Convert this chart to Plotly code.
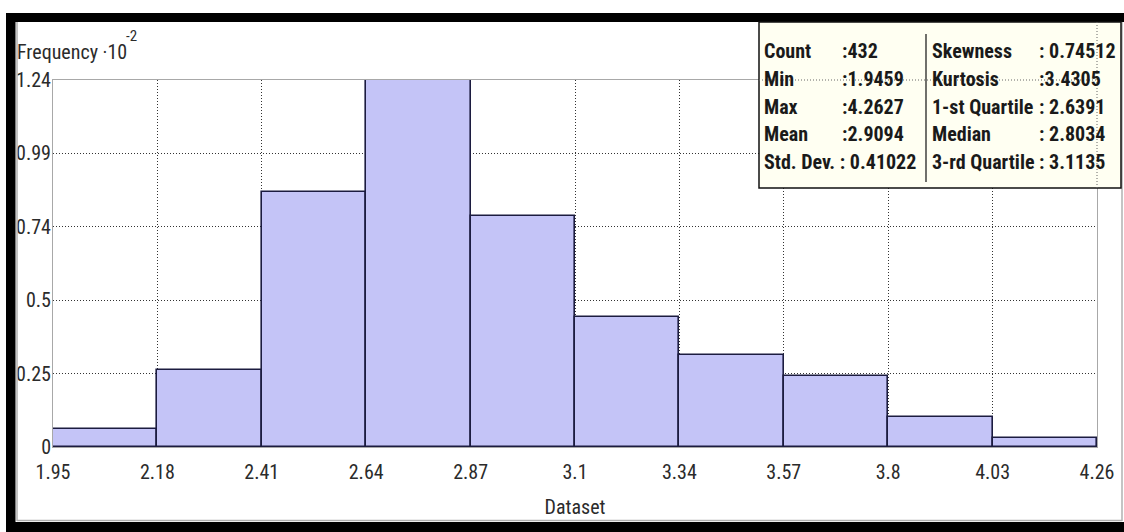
import plotly.graph_objects as go

# Histogram of the dataset: 10 equal-width bins between min and max
data_min = 1.9459
data_max = 4.2627
bin_counts = [6, 26, 86, 124, 78, 44, 31, 24, 10, 3]
x_tick_labels = ["1.95", "2.18", "2.41", "2.64", "2.87", "3.1", "3.34", "3.57", "3.8", "4.03", "4.26"]
y_tick_values = [0, 0.248, 0.496, 0.744, 0.992, 1.24]
y_tick_labels = ["0", "0.25", "0.5", "0.74", "0.99", "1.24"]

stat_labels_left = ["Count", "Min", "Max", "Mean"]
stat_values_left = [":432", ":1.9459", ":4.2627", ":2.9094"]
stat_std = "Std. Dev. : 0.41022"
stat_labels_right = ["Skewness", "Kurtosis", "1-st Quartile", "Median", "3-rd Quartile"]
stat_values_right = [": 0.74512", ":3.4305", ": 2.6391", ": 2.8034", ": 3.1135"]

n_bins = len(bin_counts)
bin_w = (data_max - data_min) / n_bins
edges = [data_min + i * bin_w for i in range(n_bins + 1)]
centers = [data_min + (i + 0.5) * bin_w for i in range(n_bins)]
heights = [c / 100 for c in bin_counts]  # frequency shown in units of 10^-2

W, H = 1124, 532
PL, PR, PT, PB = 53, 1097, 80, 447  # plot area in pixels


def px(x):
    return x / W


def py(y):
    return 1 - y / H


NARROW = "Liberation Sans Narrow, Arial Narrow, Roboto Condensed, sans-serif"
TXT = "#2b2b2b"

fig = go.Figure()
fig.add_trace(go.Bar(
    x=centers, y=heights, width=[bin_w] * n_bins,
    marker=dict(color="#c4c4f7", line=dict(color="#1c1c40", width=1.6)),
    hoverinfo="skip",
))

fig.update_layout(
    template="none",
    width=W, height=H,
    margin=dict(l=0, r=0, t=0, b=0, pad=0, autoexpand=False),
    paper_bgcolor="white", plot_bgcolor="white",
    showlegend=False, bargap=0,
    xaxis=dict(
        domain=[px(PL), px(PR)], range=[data_min, data_max], automargin=False,
        tickmode="array", tickvals=edges, ticktext=x_tick_labels,
        showgrid=True, gridcolor="#333", gridwidth=1, griddash="1px,2px",
        showline=True, mirror=True, linecolor="#a8a8a8", linewidth=1,
        zeroline=False, ticks="", layer="below traces",
        tickfont=dict(family=NARROW, size=20, color=TXT),
        ticklabelstandoff=7,
        title=dict(text="Dataset", font=dict(family=NARROW, size=20, color=TXT), standoff=16),
    ),
    yaxis=dict(
        domain=[py(PB), py(PT)], range=[0, 1.24], automargin=False,
        tickmode="array", tickvals=y_tick_values, ticktext=y_tick_labels,
        showgrid=True, gridcolor="#333", gridwidth=1, griddash="1px,2px",
        showline=True, mirror=True, linecolor="#a8a8a8", linewidth=1,
        zeroline=False, ticks="", layer="below traces",
        tickfont=dict(family=NARROW, size=20, color=TXT),
        ticklabelstandoff=-3,
    ),
)

shapes = []
# outer black frame (left, top, bottom) and thin grey inner edge
shapes.append(dict(type="rect", xref="paper", yref="paper", x0=px(6), x1=px(15.5), y0=py(532), y1=py(13),
                   fillcolor="black", line=dict(width=0), layer="above"))
shapes.append(dict(type="rect", xref="paper", yref="paper", x0=px(6), x1=px(1124), y0=py(22), y1=py(13),
                   fillcolor="black", line=dict(width=0), layer="above"))
shapes.append(dict(type="rect", xref="paper", yref="paper", x0=px(6), x1=px(1124), y0=py(532), y1=py(522),
                   fillcolor="black", line=dict(width=0), layer="above"))
shapes.append(dict(type="line", xref="paper", yref="paper", x0=px(17), x1=px(17), y0=py(521), y1=py(22),
                   line=dict(color="#b0b0b0", width=1.5)))
shapes.append(dict(type="line", xref="paper", yref="paper", x0=px(17), x1=px(1122), y0=py(520.5), y1=py(520.5),
                   line=dict(color="#b0b0b0", width=1.5)))
shapes.append(dict(type="line", xref="paper", yref="paper", x0=px(1122), x1=px(1122), y0=py(521), y1=py(22),
                   line=dict(color="#b0b0b0", width=1.5)))
# statistics box
BOX_T, BOX_B, BOX_L, BOX_R = 22, 188, 759, 1121
shapes.append(dict(type="rect", xref="paper", yref="paper", x0=px(BOX_L), x1=px(BOX_R), y0=py(BOX_B), y1=py(BOX_T),
                   fillcolor="#fffff2", line=dict(color="#111", width=1.5), layer="above"))
shapes.append(dict(type="line", xref="paper", yref="paper", x0=px(926), x1=px(926), y0=py(182), y1=py(34),
                   line=dict(color="#111", width=1.2), layer="above"))
# plot frame edges showing through the box
shapes.append(dict(type="line", xref="paper", yref="paper", x0=px(BOX_L), x1=px(PR), y0=py(PT), y1=py(PT),
                   line=dict(color="#666", width=1, dash="1px,2px"), layer="above"))
shapes.append(dict(type="line", xref="paper", yref="paper", x0=px(PR), x1=px(PR), y0=py(BOX_B), y1=py(BOX_T),
                   line=dict(color="#666", width=1, dash="1px,2px"), layer="above"))
fig.update_layout(shapes=shapes)

BOLD = dict(family=NARROW, size=20, color="#1a1a1a", weight="bold")
row_y = [51, 79, 106.5, 134, 161.5]


def note(x, y, text, font, anchor="left"):
    fig.add_annotation(xref="paper", yref="paper", x=px(x), y=py(y), text=text,
                       showarrow=False, xanchor=anchor, yanchor="middle", font=font)


for i, (lab, val) in enumerate(zip(stat_labels_left, stat_values_left)):
    note(762, row_y[i], lab, BOLD)
    note(840, row_y[i], val, BOLD)
note(762, row_y[4], stat_std, BOLD)
for i, (lab, val) in enumerate(zip(stat_labels_right, stat_values_right)):
    note(930, row_y[i], lab, BOLD)
    note(1037, row_y[i], val, BOLD)

# y-axis caption with its power-of-ten exponent
note(15, 52, "Frequency ·10", dict(family=NARROW, size=20, color=TXT))
note(124, 36, "-2", dict(family=NARROW, size=15, color=TXT))

fig.write_html("out.html")
